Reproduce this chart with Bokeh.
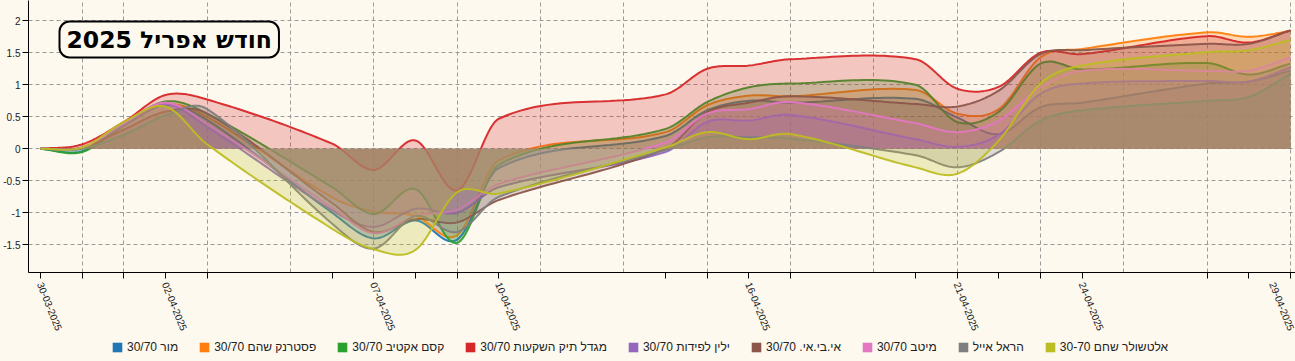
import numpy as np
from bokeh.plotting import figure
from bokeh.layouts import column
from bokeh.models import (FixedTicker, CustomJSTickFormatter, Range1d, Legend, LegendItem,
                          Label, Grid, NumeralTickFormatter, ColumnDataSource)
from bokeh.embed import file_html
from bokeh.resources import INLINE

# ---------------- data ----------------
dates = ["2025-03-30", "2025-03-31", "2025-04-01", "2025-04-02", "2025-04-03",
         "2025-04-06", "2025-04-07", "2025-04-08", "2025-04-09", "2025-04-10",
         "2025-04-14", "2025-04-15", "2025-04-16", "2025-04-17", "2025-04-20",
         "2025-04-21", "2025-04-22", "2025-04-23", "2025-04-24", "2025-04-27",
         "2025-04-28", "2025-04-29"]
tick_labels = ["30-03-2025", "", "", "02-04-2025", "", "", "07-04-2025", "", "", "10-04-2025",
               "", "", "16-04-2025", "", "", "21-04-2025", "", "", "24-04-2025", "", "",
               "29-04-2025"]
y_ticks = [-1.5, -1, -0.5, 0, 0.5, 1, 1.5, 2]

names = ["מור 30/70", "פסטרנק שהם 30/70", "קסם אקטיב 30/70", "מגדל תיק השקעות 30/70",
         "ילין לפידות 30/70", "אי.בי.אי. 30/70", "מיטב 30/70", "הראל אייל", "אלטשולר שחם 30-70"]
colors = ["#1f77b4", "#ff7f0e", "#2ca02c", "#d62728", "#9467bd", "#8c564b", "#e377c2",
          "#7f7f7f", "#bcbd22"]

mor = [0, -0.04, 0.36, 0.68, 0.45, -1.00, -1.40, -1.12, -1.42, -0.30, 0.20, 0.60, 0.75, 0.72,
       0.78, 0.49, 0.23, 0.65, 0.72, 1.02, 1.05, 1.22]
pasternak = [0, 0.02, 0.40, 0.70, 0.50, -0.76, -0.98, -1.05, -1.35, -0.18, 0.26, 0.68, 0.83,
             0.82, 0.92, 0.55, 0.62, 1.43, 1.56, 1.82, 1.75, 1.84]
kesem = [0, -0.05, 0.38, 0.74, 0.55, -0.60, -1.02, -0.63, -1.47, -0.25, 0.31, 0.73, 0.96, 1.02,
         1.00, 0.42, 0.58, 1.33, 1.24, 1.34, 1.16, 1.33]
migdal = [0, 0.07, 0.42, 0.84, 0.77, 0.08, -0.33, 0.13, -0.65, 0.47, 0.85, 1.25, 1.30, 1.40,
          1.40, 0.94, 0.97, 1.50, 1.48, 1.76, 1.66, 1.85]
yelin = [0, 0.01, 0.38, 0.70, 0.34, -0.96, -1.22, -0.94, -1.00, -0.60, -0.05, 0.42, 0.44, 0.53,
         0.15, 0.03, 0.22, 0.86, 1.02, 1.06, 1.05, 1.27]
ibi = [0, 0.02, 0.30, 0.58, 0.55, -0.85, -1.30, -1.10, -1.15, -0.80, 0.00, 0.57, 0.72, 0.82,
       0.70, 0.66, 0.91, 1.48, 1.54, 1.64, 1.64, 1.85]
meitav = [0, 0.02, 0.40, 0.72, 0.39, -0.92, -1.32, -1.05, -0.95, -0.55, 0.10, 0.55, 0.62, 0.73,
          0.40, 0.26, 0.44, 0.96, 1.22, 1.22, 1.22, 1.43]
harel = [0, 0.00, 0.22, 0.52, 0.62, -1.17, -1.56, -1.05, -1.30, -0.75, -0.02, 0.18, 0.18, 0.16,
         -0.10, -0.29, -0.05, 0.44, 0.60, 0.75, 0.81, 1.17]
altshuler = [0, 0.02, 0.42, 0.66, 0.07, -1.25, -1.57, -1.58, -0.68, -0.70, 0.02, 0.26, 0.15,
             0.23, -0.29, -0.39, 0.13, 1.02, 1.30, 1.51, 1.54, 1.70]

series = [mor, pasternak, kesem, migdal, yelin, ibi, meitav, harel, altshuler]

# ---------------- helpers ----------------
DAY = 86400000.0
x_ms = np.array([np.datetime64(d, "ms").astype("int64") for d in dates], dtype=float)


def smooth(xs, ys, n=24):
    """Cubic Hermite (Catmull-Rom style) curve through the data points."""
    xs = np.asarray(xs, float)
    ys = np.asarray(ys, float)
    m = np.zeros_like(ys)
    m[1:-1] = (ys[2:] - ys[:-2]) / (xs[2:] - xs[:-2])
    m[0] = (ys[1] - ys[0]) / (xs[1] - xs[0])
    m[-1] = (ys[-1] - ys[-2]) / (xs[-1] - xs[-2])
    out_x, out_y = [], []
    for i in range(len(xs) - 1):
        h = xs[i + 1] - xs[i]
        t = np.linspace(0, 1, n, endpoint=False)
        h00 = 2 * t**3 - 3 * t**2 + 1
        h10 = t**3 - 2 * t**2 + t
        h01 = -2 * t**3 + 3 * t**2
        h11 = t**3 - t**2
        out_x.extend(xs[i] + t * h)
        out_y.extend(h00 * ys[i] + h10 * h * m[i] + h01 * ys[i + 1] + h11 * h * m[i + 1])
    out_x.append(xs[-1])
    out_y.append(ys[-1])
    return np.array(out_x), np.array(out_y)


BG = "#fdf9ef"
FONT = "Liberation Sans"
W = 1295
MAIN_H = 336
LEG_H = 25

x_start = x_ms[0] - 0.288 * DAY
x_end = x_ms[-1] + 0.12 * DAY

p = figure(width=W, height=MAIN_H, x_axis_type="datetime", output_backend="svg",
           toolbar_location=None, x_range=Range1d(x_start, x_end),
           y_range=Range1d(-1.933, 2.317),
           min_border_left=28, min_border_right=0, min_border_top=0, min_border_bottom=64)
p.background_fill_color = BG
p.border_fill_color = BG
p.outline_line_color = None

# grids
p.xgrid.visible = False
p.ygrid.ticker = FixedTicker(ticks=y_ticks)
p.ygrid.grid_line_color = "#9a9a9a"
p.ygrid.grid_line_dash = "4 3"
p.ygrid.grid_line_width = 1

grid_days = [np.datetime64("2025-03-31", "ms").astype("int64")] + \
    [np.datetime64("2025-04-%02d" % d, "ms").astype("int64") for d in range(1, 30, 2)]
vgrid = Grid(dimension=0, ticker=FixedTicker(ticks=[float(v) for v in grid_days]),
             grid_line_color="#9a9a9a", grid_line_dash="4 3", grid_line_width=1)
p.add_layout(vgrid)

# axes
xa = p.xaxis[0]
xa.ticker = FixedTicker(ticks=list(x_ms))
xa.formatter = CustomJSTickFormatter(args=dict(labels=tick_labels),
                                     code="const l = labels[index]; return l === undefined ? '' : l;")
xa.major_label_orientation = -1.19
xa.major_label_text_font = FONT
xa.major_label_text_font_size = "10px"
xa.major_label_text_color = "#222222"
xa.major_tick_out = 6
xa.major_tick_in = 0
xa.minor_tick_out = 0
xa.axis_line_color = "black"
xa.major_tick_line_color = "black"
xa.major_label_standoff = 4

ya = p.yaxis[0]
ya.ticker = FixedTicker(ticks=y_ticks)
ya.formatter = NumeralTickFormatter(format="0.[0]")
ya.major_label_text_font = FONT
ya.major_label_text_font_size = "10px"
ya.major_label_text_color = "#222222"
ya.major_tick_out = 6
ya.major_tick_in = 0
ya.minor_tick_out = 0
ya.axis_line_color = "black"
ya.major_tick_line_color = "black"
ya.major_label_standoff = 2

# series: area + line
for col, vals in zip(colors, series):
    sx, sy = smooth(x_ms, vals)
    src = ColumnDataSource(dict(x=sx, y=sy, z=np.zeros_like(sy)))
    p.varea(x="x", y1="z", y2="y", source=src, fill_color=col, fill_alpha=0.24)
    p.line(x="x", y="y", source=src, line_color=col, line_width=2, line_alpha=0.95)

title = Label(x=31, y=251, x_units="screen", y_units="screen", anchor="top_left",
              text="חודש אפריל 2025", text_font="DejaVu Sans", text_font_style="bold",
              text_font_size="23.5px", text_color="black",
              background_fill_color=BG, border_line_color="black", border_line_width=2,
              border_radius=10, padding=(7, 4))
p.add_layout(title)

# legend strip below the chart
leg = figure(width=W, height=LEG_H, output_backend="svg", toolbar_location=None,
             x_range=Range1d(0, 1), y_range=Range1d(0, 1),
             x_axis_location=None, y_axis_location=None,
             min_border_left=0, min_border_right=0, min_border_top=0, min_border_bottom=0)
leg.background_fill_color = BG
leg.border_fill_color = BG
leg.outline_line_color = None
leg.grid.visible = False

legend_items = []
for name, col in zip(names, colors):
    swatch = leg.quad(left=[np.nan], right=[np.nan], top=[np.nan], bottom=[np.nan],
                      fill_color=col, fill_alpha=1.0, line_color=None)
    legend_items.append(LegendItem(label=name, renderers=[swatch]))

legend = Legend(items=legend_items, orientation="horizontal", location=(83, 7),
                glyph_width=12, glyph_height=12, label_standoff=4, spacing=20,
                padding=0, margin=0, border_line_color=None, background_fill_alpha=0,
                label_text_font=FONT, label_text_font_size="12px",
                label_text_color="#222222", label_height=12)
leg.add_layout(legend, "center")

layout = column(p, leg, spacing=0)

html = file_html(layout, INLINE)
html = html.replace("<head>", "<head><style>body{background:%s;}</style>" % BG, 1)
open("out.html", "w").write(html)
